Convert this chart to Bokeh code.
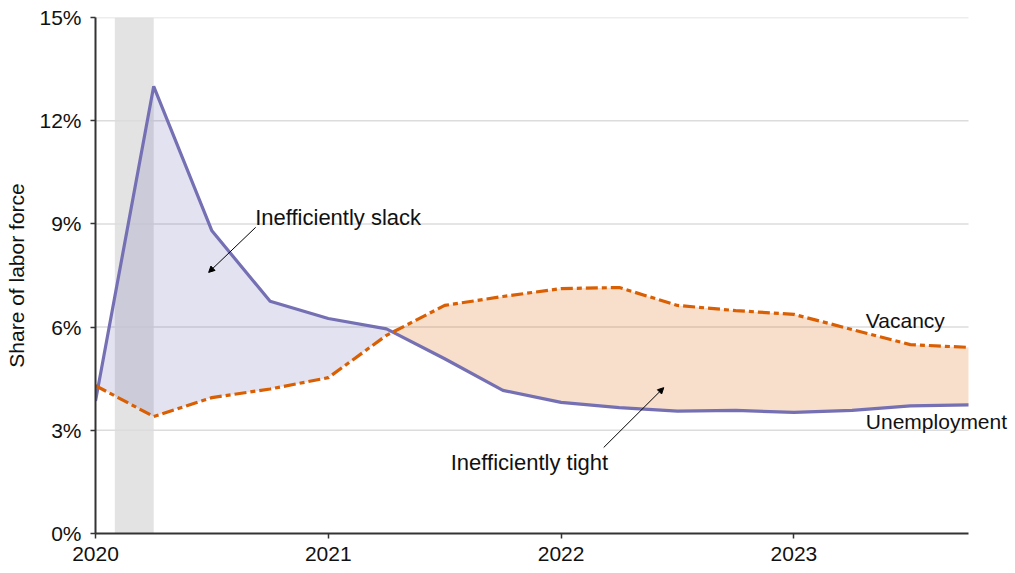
import numpy as np
from bokeh.plotting import figure
from bokeh.models import FixedTicker, Label, Arrow, NormalHead, BoxAnnotation, Range1d
from bokeh.embed import file_html
from bokeh.resources import INLINE

quarters = [2020.0, 2020.25, 2020.5, 2020.75, 2021.0, 2021.25, 2021.5, 2021.75,
            2022.0, 2022.25, 2022.5, 2022.75, 2023.0, 2023.25, 2023.5, 2023.75]
unemployment = [3.85, 13.0, 8.8, 6.75, 6.25, 5.95, 5.08, 4.16,
                3.81, 3.66, 3.56, 3.58, 3.52, 3.58, 3.71, 3.74]
vacancy = [4.3, 3.4, 3.95, 4.2, 4.53, 5.76, 6.63, 6.89,
           7.12, 7.15, 6.63, 6.48, 6.37, 5.93, 5.49, 5.41]
y_ticks = [0, 3, 6, 9, 12, 15]
y_tick_labels = ["0%", "3%", "6%", "9%", "12%", "15%"]
x_ticks = [2020, 2021, 2022, 2023]
x_tick_labels = ["2020", "2021", "2022", "2023"]
recession = [2020.083, 2020.25]
x_start, x_end = 2020.0, 2023.75

FONT = "Liberation Sans"
PURPLE = "#7570b3"
ORANGE = "#d95f02"

# insert crossing points for clean fills
xs, us, vs = [], [], []
for i in range(len(quarters)):
    xs.append(quarters[i]); us.append(unemployment[i]); vs.append(vacancy[i])
    if i < len(quarters) - 1:
        d0 = unemployment[i] - vacancy[i]
        d1 = unemployment[i + 1] - vacancy[i + 1]
        if d0 * d1 < 0:
            t = d0 / (d0 - d1)
            xc = quarters[i] + t * (quarters[i + 1] - quarters[i])
            yc = unemployment[i] + t * (unemployment[i + 1] - unemployment[i])
            xs.append(xc); us.append(yc); vs.append(yc)
xs = np.array(xs); us = np.array(us); vs = np.array(vs)
top = np.maximum(us, vs)

# frame: 95..1010 px, 2023.75 at 968 px -> extra room on the right for labels
px_per_year = (968 - 95) / (x_end - x_start)
x_pad = (1010 - 968) / px_per_year

p = figure(width=1012, height=573, output_backend="svg", toolbar_location=None,
           x_range=Range1d(x_start, x_end + x_pad), y_range=Range1d(0, 15),
           min_border_left=95, min_border_right=2, min_border_top=17, min_border_bottom=40)
p.outline_line_color = None
p.background_fill_color = "white"

p.add_layout(BoxAnnotation(left=recession[0], right=recession[1], fill_color="#e3e3e3",
                           fill_alpha=1.0, line_color=None, level="underlay"))

# horizontal gridlines limited to the data span
gy = [t for t in y_ticks if t > 0]
p.segment(x0=[x_start] * len(gy), x1=[x_end] * len(gy), y0=gy, y1=gy,
          line_color="#dcdcdc", line_width=1.5)

p.varea(x=xs, y1=vs, y2=top, fill_color=PURPLE, fill_alpha=0.2)
p.varea(x=xs, y1=us, y2=top, fill_color=ORANGE, fill_alpha=0.2)

p.line(quarters, unemployment, line_color=PURPLE, line_width=3.2)
p.line(quarters, vacancy, line_color=ORANGE, line_width=3.2, line_dash="12 4 5 4")

# axes
p.xaxis.ticker = FixedTicker(ticks=x_ticks)
p.xaxis.major_label_overrides = {t: l for t, l in zip(x_ticks, x_tick_labels)}
p.xaxis.bounds = (x_start, x_end)
p.yaxis.ticker = FixedTicker(ticks=y_ticks)
p.yaxis.major_label_overrides = {t: l for t, l in zip(y_ticks, y_tick_labels)}
for ax in (p.xaxis[0], p.yaxis[0]):
    ax.axis_line_color = "#333333"
    ax.axis_line_width = 2
    ax.major_tick_line_color = "#333333"
    ax.major_tick_line_width = 1.5
    ax.major_tick_out = 5
    ax.major_tick_in = 0
    ax.minor_tick_line_color = None
    ax.major_label_text_font = FONT
    ax.major_label_text_font_size = "21px"
    ax.major_label_text_color = "#111111"
p.xaxis.major_label_standoff = 8
p.yaxis.major_label_standoff = 9
p.yaxis.axis_label = "Share of labor force"
p.yaxis.axis_label_text_font = FONT
p.yaxis.axis_label_text_font_size = "21px"
p.yaxis.axis_label_text_font_style = "normal"
p.yaxis.axis_label_text_color = "#111111"
p.yaxis.axis_label_standoff = 8

p.xgrid.grid_line_color = None
p.ygrid.grid_line_color = None

def lab(x, y, t, size="22px"):
    p.add_layout(Label(x=x, y=y, text=t, text_font=FONT, text_font_size=size,
                       text_color="#111111", text_baseline="middle", text_align="left"))

lab(2020.686, 9.2, "Inefficiently slack")
lab(2021.526, 2.06, "Inefficiently tight")
lab(2023.309, 6.2, "Vacancy", "21px")
lab(2023.309, 3.25, "Unemployment", "21px")

p.add_layout(Arrow(x_start=2020.688, y_start=8.9, x_end=2020.486, y_end=7.59,
                   line_color="black", line_width=1,
                   end=NormalHead(size=6, fill_color="black", line_color="black")))
p.add_layout(Arrow(x_start=2022.183, y_start=2.5, x_end=2022.441, y_end=4.24,
                   line_color="black", line_width=1,
                   end=NormalHead(size=6, fill_color="black", line_color="black")))

open("out.html", "w").write(file_html(p, INLINE))
